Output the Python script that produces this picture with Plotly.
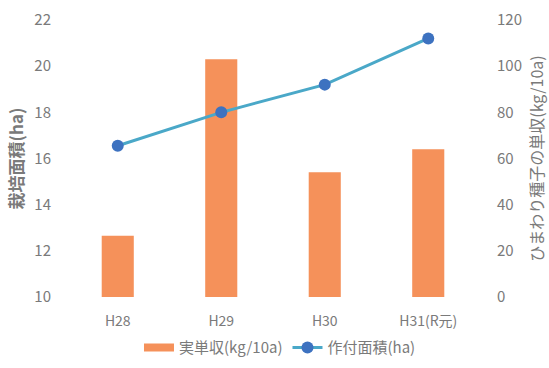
import plotly.graph_objects as go

categories = ["H28", "H29", "H30", "H31(R元)"]
yield_kg = [26.5, 103, 54, 64]          # 実単収(kg/10a), right axis
area_ha = [16.55, 18.0, 19.2, 21.2]     # 作付面積(ha), left axis

GRAY = "#7a7a7a"
FONT = "Noto Sans CJK JP"
ORANGE = "#F5915A"

fig = go.Figure()
fig.add_trace(go.Bar(
    x=categories, y=yield_kg, name="実単収(kg/10a)", yaxis="y",
    marker=dict(color=ORANGE, line=dict(width=0)), width=0.31,
    showlegend=False,
))
# legend-only entry with a wide rectangular swatch like the original
fig.add_trace(go.Scatter(
    x=[None], y=[None], name="実単収(kg/10a)", yaxis="y", mode="lines",
    line=dict(color=ORANGE, width=8), hoverinfo="skip",
))
fig.add_trace(go.Scatter(
    x=categories, y=area_ha, name="作付面積(ha)", yaxis="y2",
    mode="lines+markers",
    line=dict(color="#4AA8C8", width=3),
    marker=dict(color="#3D72C0", size=12),
))

fig.update_layout(
    width=549, height=368,
    margin=dict(l=66, r=69, t=20, b=71),
    paper_bgcolor="white", plot_bgcolor="white",
    font=dict(family=FONT, color=GRAY, size=14),
    showlegend=True,
    legend=dict(orientation="h", x=0.51, xref="container", xanchor="center",
                y=0.01, yref="container", yanchor="bottom",
                font=dict(size=15, color=GRAY)),
    xaxis=dict(type="category", showgrid=False, showline=False, zeroline=False,
               ticks="", ticklabelstandoff=14, automargin=False,
               tickfont=dict(size=14, color=GRAY)),
    yaxis=dict(range=[0, 120], dtick=20, side="right",
               showgrid=False, zeroline=False, showline=False, ticks="",
               ticklabelstandoff=16, automargin=False,
               tickfont=dict(size=15, color=GRAY),
               title=dict(text="ひまわり種子の単収(kg/10a)", font=dict(size=16, color=GRAY), standoff=10)),
    yaxis2=dict(range=[10, 22], dtick=2, overlaying="y", side="left",
                showgrid=False, zeroline=False, showline=False,
                ticks="", ticklabelstandoff=14, automargin=False,
                tickfont=dict(size=15, color=GRAY),
                title=dict(text="<b>栽培面積(ha)</b>", font=dict(size=17, color=GRAY), standoff=6)),
)

fig.write_html("out.html")
